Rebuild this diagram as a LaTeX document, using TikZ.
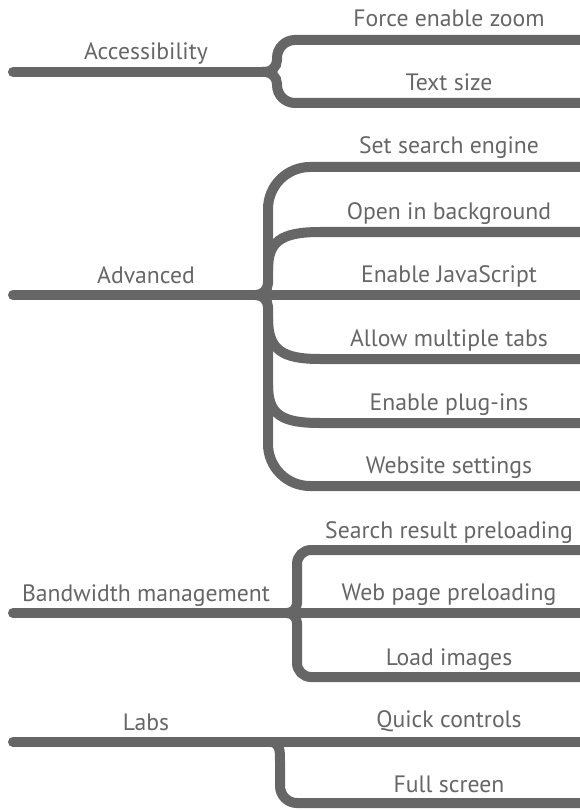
\documentclass[tikz,border=0pt]{standalone}
\usepackage{fontspec}
\setmainfont{PT Sans}
\usetikzlibrary{positioning,calc}
\definecolor{menugray}{RGB}{102,102,102}

\begin{document}
\begin{tikzpicture}[
    x=1pt, y=-1pt,
    every node/.style={font=\fontsize{23.7}{28}\selectfont, text=menugray, inner sep=0pt, anchor=base},
    branch/.style={draw=menugray, line width=10pt, line cap=round},
]
\useasboundingbox (0,0) rectangle (579,810);

% Accessibility
\coordinate (acc) at (13,72);
\coordinate (accfork) at (277,72);
\node (acclabel) at (146,60) {Accessibility};
\node (zoomlabel) at (449,27) {Force enable zoom};
\node (sizelabel) at (449,91) {Text size};
\draw[branch] (acc) -- (264,72);
\draw[branch] (262,72) [rounded corners=12pt] -- (accfork) [rounded corners=18pt] -- (277,40) -- (584,40);
\draw[branch] (262,72) [rounded corners=12pt] -- (accfork) [rounded corners=18pt] -- (277,103) -- (584,103);

% Advanced
\coordinate (adv) at (13,295);
\coordinate (advfork) at (268,295);
\node (advlabel) at (146,283) {Advanced};
\node (enginelabel) at (449,154) {Set search engine};
\node (bglabel) at (449,219) {Open in background};
\node (jslabel) at (449,282) {Enable JavaScript};
\node (tabslabel) at (449,346) {Allow multiple tabs};
\node (pluglabel) at (449,410) {Enable plug-ins};
\node (sitelabel) at (449,473) {Website settings};
\draw[branch] (adv) -- (584,295);
\draw[branch] (256,295) [rounded corners=12pt] -- (advfork) [rounded corners=42pt] -- (268,167) -- (584,167);
\draw[branch] (256,295) [rounded corners=12pt] -- (advfork) [rounded corners=42pt] -- (268,486) -- (584,486);
\draw[branch] (268,270) .. controls (268,242) and (280,232) .. (320,232) -- (584,232);
\draw[branch] (268,318) .. controls (268,350) and (282,359) .. (320,359) -- (584,359);
\draw[branch] (268,385) .. controls (268,415) and (282,423) .. (320,423) -- (584,423);

% Bandwidth management
\coordinate (bw) at (13,613);
\coordinate (bwfork) at (297,613);
\node (bwlabel) at (146,601) {Bandwidth management};
\node (searchlabel) at (449,538) {Search result preloading};
\node (pagelabel) at (449,600) {Web page preloading};
\node (imglabel) at (449,665) {Load images};
\draw[branch] (bw) -- (584,613);
\draw[branch] (287,613) [rounded corners=10pt] -- (bwfork) [rounded corners=14pt] -- (297,550) -- (584,550);
\draw[branch] (287,613) [rounded corners=10pt] -- (bwfork) [rounded corners=14pt] -- (297,677) -- (584,677);

% Labs
\coordinate (labs) at (13,742);
\node (labslabel) at (146,730) {Labs};
\node (quicklabel) at (449,727) {Quick controls};
\node (fulllabel) at (449,792) {Full screen};
\draw[branch] (labs) -- (584,742);
\draw[branch] (272,742) .. controls (280,744) and (280,750) .. (280,762) [rounded corners=17pt] -- (280,803) -- (584,803);

\end{tikzpicture}
\end{document}
